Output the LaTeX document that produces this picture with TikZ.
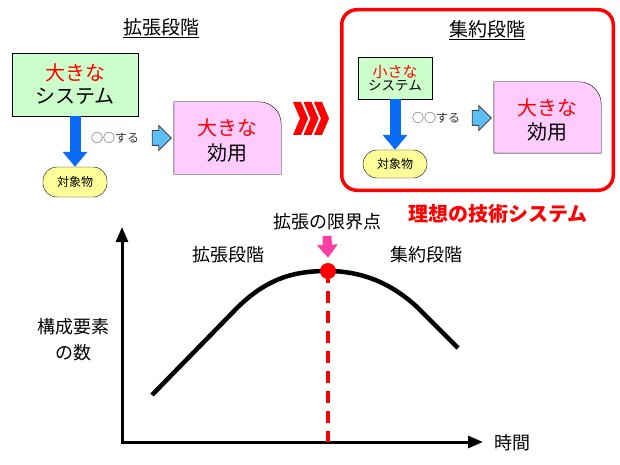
\documentclass[tikz,border=0pt]{standalone}
\usepackage{fontspec}
\setmainfont{Noto Sans CJK JP}
\usetikzlibrary{positioning,calc,arrows.meta,shapes.arrows}

\definecolor{sysgreen}{HTML}{CCFFCC}
\definecolor{effpink}{HTML}{FFCCFF}
\definecolor{objyellow}{HTML}{FFFF99}
\definecolor{flowblue}{HTML}{0A6CF5}
\definecolor{gonblue}{HTML}{5BC0F8}
\definecolor{markpink}{HTML}{FF3FA4}
\definecolor{hotred}{HTML}{FF0000}

\newcommand{\fsz}[1]{\fontsize{#1}{#1}\selectfont}

\tikzset{
  sysbox/.style={rectangle,draw,fill=sysgreen,align=center,inner sep=0pt},
  objbox/.style={rectangle,draw,fill=objyellow,rounded corners=14pt,inner sep=0pt,font=\fsz{12}},
  effarea/.style={rectangle,inner sep=0pt,align=center},
  effshape/.style={draw,fill=effpink},
  flow/.style={flowblue,line width=11pt,-{Triangle[width=24pt,length=15pt]}},
  gonext/.style={single arrow,draw=black!75,fill=gonblue,line width=0.8pt,inner xsep=0pt,inner ysep=7pt,
    minimum height=19pt,single arrow head extend=5pt},
  opnote/.style={font=\fsz{12},text=black!80},
  stagetitle/.style={font=\fsz{19}},
  plotlabel/.style={font=\fsz{18}},
  axisline/.style={line width=3pt,{Triangle[width=12pt,length=15pt]}-{Triangle[width=12pt,length=15pt]}}
}

\begin{document}
\begin{tikzpicture}[x=1pt,y=-1pt]
    \useasboundingbox (0,0) rectangle (620,465);

    % expansion stage (top left)
    \node[stagetitle] (ttlexp) at (161,28) {\underline{拡張段階}};
    \node[sysbox,minimum width=126pt,minimum height=63pt,font=\fontsize{20}{23}\selectfont] (bigsys) at (75,84.5) {\textcolor{hotred}{大きな}\\システム};
    \node[objbox,minimum width=64pt,minimum height=30pt] (obj1) at (75,182) {対象物};
    \draw[flow] (bigsys.south) -- (obj1.north);
    \node[opnote] (op1) at (115,138) {○○する};
    \node[gonext] (go1) at (158,138) {};
    \node[effarea,minimum width=107pt,minimum height=72pt] (eff1) at (227.5,138) {};
    \draw[effshape] (eff1.south west) -- (eff1.north west) -- ([xshift=-22pt]eff1.north east)
        .. controls ([xshift=-10pt]eff1.north east) and ([yshift=-10pt]eff1.north east) .. ([yshift=-22pt]eff1.north east)
        -- (eff1.south east) -- cycle;
    \node[effarea,font=\fontsize{20}{25}\selectfont] at (227.5,140.5) {\textcolor{hotred}{大きな}\\効用};

    % chevrons
    \foreach \i in {0,1,2}{
        \fill[hotred] (293+10.5*\i,102) -- ++(8,0) -- ++(7,16.5) -- ++(-7,16.5) -- ++(-8,0) -- ++(7,-16.5) -- cycle;
    }

    % convergence stage (top right)
    \node[draw=hotred,line width=3.5pt,rounded corners=15pt,minimum width=271.5pt,minimum height=180.5pt] (ideal) at (477.5,100) {};
    \node[stagetitle] (ttlcon) at (487,30) {\underline{集約段階}};
    \node[sysbox,minimum width=74pt,minimum height=42pt] (smallsys) at (395,78) {\textcolor{hotred}{\fsz{15}小さな}\\[1pt]{\fsz{13.5}システム}};
    \node[objbox,minimum width=64pt,minimum height=28pt] (obj2) at (395,164) {対象物};
    \draw[flow] (smallsys.south) -- (obj2.north);
    \node[opnote] (op2) at (436,118) {○○する};
    \node[gonext] (go2) at (478,118) {};
    \node[effarea,minimum width=107pt,minimum height=71pt] (eff2) at (547.5,117.5) {};
    \draw[effshape] (eff2.south west) -- (eff2.north west) -- ([xshift=-22pt]eff2.north east)
        .. controls ([xshift=-10pt]eff2.north east) and ([yshift=-10pt]eff2.north east) .. ([yshift=-22pt]eff2.north east)
        -- (eff2.south east) -- cycle;
    \node[effarea,font=\fontsize{20}{24}\selectfont] at (547.5,120) {\textcolor{hotred}{大きな}\\効用};
    \node[font=\bfseries\fsz{20},text=hotred] (idealtxt) at (498,214) {理想の技術システム};

    % graph
    \coordinate (origin) at (122,442);
    \coordinate (ytop) at (122,227);
    \coordinate (xend) at (483,442);
    \coordinate (peak) at (328,271);
    \draw[axisline] (ytop) -- (origin) -- (xend);
    \draw[line width=4.5pt] (152,395) -- (237,308) .. controls (270,275) and (300,271) .. (peak)
        .. controls (360,271) and (390,282) .. (417,307) -- (458,348);
    \draw[hotred,line width=3.5pt,dash pattern=on 12pt off 8pt] (peak) -- (peak |- origin);
    \node[circle,fill=hotred,minimum size=16pt,inner sep=0pt] (lim) at (peak) {};
    \node[plotlabel] (limtxt) at (327,222) {拡張の限界点};
    \draw[markpink,line width=9pt,-{Triangle[width=20pt,length=13pt]}] ([yshift=-2pt]limtxt.south) -- ([yshift=5pt]lim.north);
    \node[plotlabel] (expgr) at (228,255) {拡張段階};
    \node[plotlabel] (congr) at (426,255) {集約段階};
    \node[plotlabel] (tlabel) at (512,443) {時間};
    \node[plotlabel,align=center,font=\fontsize{18}{26}\selectfont] (nlabel) at (73,340) {構成要素\\の数};
\end{tikzpicture}
\end{document}
